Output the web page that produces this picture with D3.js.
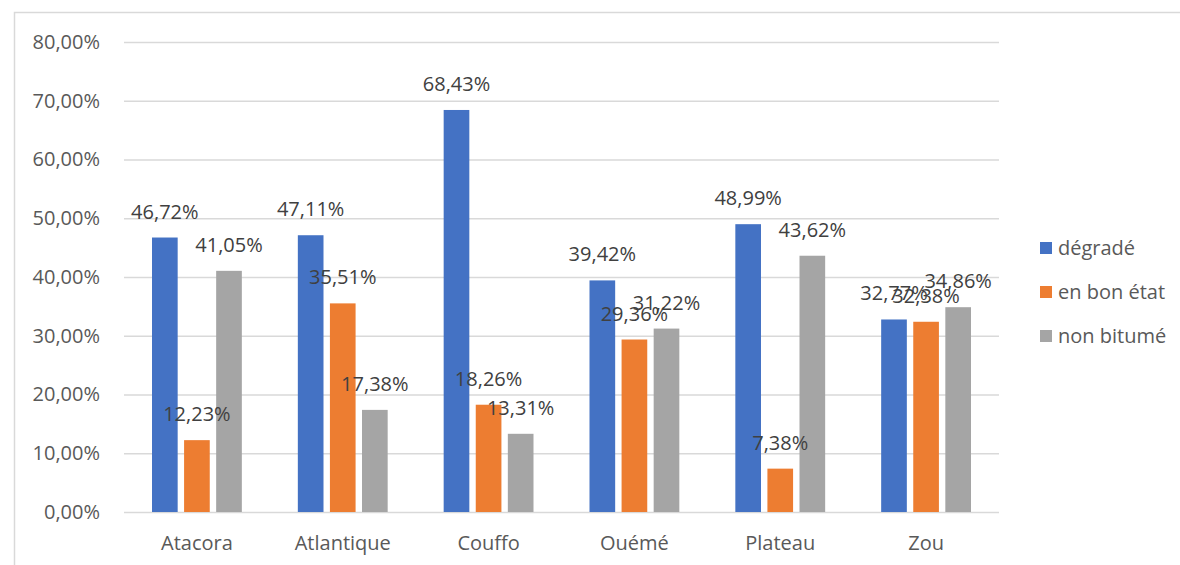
<!DOCTYPE html>
<html>
<head>
<meta charset="utf-8">
<script src="https://cdn.jsdelivr.net/npm/d3@7"></script>
<style>
  html, body { margin: 0; padding: 0; background: #fff; }
  svg { display: block; }
  text { font-family: "Open Sans", "Noto Sans", sans-serif; fill: #595959; }
</style>
</head>
<body>
<svg id="chart" width="1180" height="565"></svg>
<script>
// Departments and road-condition shares (percent)
const categories = ["Atacora", "Atlantique", "Couffo", "Ouémé", "Plateau", "Zou"];
const seriesNames = ["dégradé", "en bon état", "non bitumé"];
const degrade   = [46.72, 47.11, 68.43, 39.42, 48.99, 32.77];
const bonEtat   = [12.23, 35.51, 18.26, 29.36, 7.38, 32.38];
const nonBitume = [41.05, 17.38, 13.31, 31.22, 43.62, 34.86];
const yTicks = [0, 10, 20, 30, 40, 50, 60, 70, 80];
const colors = ["#4472C4", "#ED7D31", "#A5A5A5"];

const seriesValues = [degrade, bonEtat, nonBitume];
const fmt = v => v.toFixed(2).replace(".", ",") + "%";
const FS = 20;

const svg = d3.select("#chart");

// Outer frame of the chart area
svg.append("rect")
  .attr("x", 14.5).attr("y", 12.5)
  .attr("width", 1180).attr("height", 600)
  .attr("fill", "none").attr("stroke", "#d9d9d9").attr("stroke-width", 1.5);

const plot = { left: 124, right: 999, top: 42, bottom: 512 };

const x0 = d3.scaleBand().domain(categories)
  .range([plot.left, plot.right]).paddingInner(0).paddingOuter(0);
const groupInset = 28;
const x1 = d3.scaleBand().domain(seriesNames)
  .range([groupInset, x0.bandwidth() - groupInset]).paddingInner(0.2).paddingOuter(0);
const y = d3.scaleLinear().domain([0, 80]).range([plot.bottom, plot.top]);

// Gridlines and y tick labels
const yAxis = d3.axisLeft(y).tickValues(yTicks)
  .tickSize(-(plot.right - plot.left)).tickPadding(24)
  .tickFormat(fmt);
const gy = svg.append("g").attr("transform", `translate(${plot.left},0)`).call(yAxis);
gy.select(".domain").remove();
gy.selectAll(".tick line").attr("stroke", "#d9d9d9").attr("stroke-width", 1.5);
gy.selectAll(".tick text").attr("font-size", FS).style("fill", "#595959")
  .attr("font-family", "Open Sans");

// Category axis
const xAxis = d3.axisBottom(x0).tickSize(0).tickPadding(24);
const gx = svg.append("g").attr("transform", `translate(0,${plot.bottom})`).call(xAxis);
gx.select(".domain").remove();
gx.selectAll(".tick text").attr("font-size", FS).style("fill", "#595959")
  .attr("font-family", "Open Sans");

// Bars
const rows = categories.map((c, i) => ({
  cat: c,
  vals: seriesNames.map((s, k) => ({ s, k, v: seriesValues[k][i] }))
}));

const groups = svg.append("g").selectAll("g").data(rows).join("g")
  .attr("transform", d => `translate(${x0(d.cat)},0)`);

groups.selectAll("rect").data(d => d.vals).join("rect")
  .attr("x", d => x1(d.s))
  .attr("width", x1.bandwidth())
  .attr("y", d => y(d.v))
  .attr("height", d => y(0) - y(d.v))
  .attr("fill", d => colors[d.k]);

// Value labels above bars
groups.selectAll("text.val").data(d => d.vals).join("text")
  .attr("class", "val")
  .attr("x", d => x1(d.s) + x1.bandwidth() / 2)
  .attr("y", d => y(d.v) - 19)
  .attr("text-anchor", "middle")
  .attr("font-size", FS)
  .style("fill", "#404040")
  .text(d => fmt(d.v));

// Legend
const legend = svg.append("g").attr("transform", "translate(1040,248)");
const li = legend.selectAll("g").data(seriesNames).join("g")
  .attr("transform", (d, i) => `translate(0,${i * 44})`);
li.append("rect").attr("x", 0).attr("y", -6).attr("width", 12).attr("height", 12)
  .attr("fill", (d, i) => colors[i]);
li.append("text").attr("x", 18).attr("y", 0).attr("dy", "0.35em")
  .attr("font-size", FS).style("fill", "#595959").text(d => d);
</script>
</body>
</html>
